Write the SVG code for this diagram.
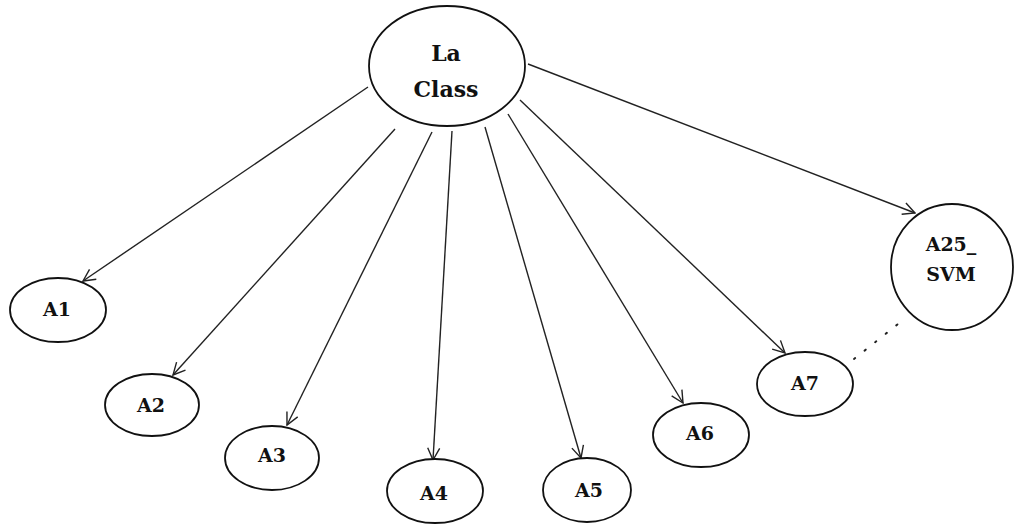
<svg xmlns="http://www.w3.org/2000/svg" width="1014" height="526" viewBox="0 0 1014 526">
<style>
.n ellipse{fill:#fff;stroke:#111;stroke-width:1.8}
.n text{font-family:"DejaVu Serif","Liberation Serif",serif;font-weight:bold;font-size:19px;fill:#111;text-anchor:middle}
.c line{stroke:#222;stroke-width:1.4;marker-end:url(#ah)}
</style>
<defs>
<marker id="ah" viewBox="0 0 14 14" refX="13" refY="7" markerWidth="14" markerHeight="14" markerUnits="userSpaceOnUse" orient="auto">
<polyline points="1,1 13,7 1,13" fill="none" stroke="#222" stroke-width="1.4"/>
</marker>
</defs>
<rect width="1014" height="526" fill="#fff"/>
<g class="c" id="connectors">
<line x1="368" y1="87" x2="83" y2="281"/>
<line x1="395" y1="129" x2="173" y2="375"/>
<line x1="432" y1="132" x2="287" y2="425"/>
<line x1="452" y1="131" x2="433" y2="460"/>
<line x1="485" y1="127" x2="581" y2="458"/>
<line x1="508" y1="114" x2="683" y2="403"/>
<line x1="520" y1="100" x2="785" y2="353"/>
<line x1="528" y1="64" x2="915" y2="213"/>
<line x1="854" y1="359" x2="903" y2="320" style="marker-end:none;stroke-dasharray:1.5 12;stroke-width:2;stroke-linecap:round"/>
</g>
<g class="n" id="laclass"><ellipse cx="447" cy="66" rx="78" ry="60"/>
<text x="446" y="61" style="font-size:22px">La</text><text x="446" y="97" style="font-size:22px">Class</text></g>
<g class="n" id="a1"><ellipse cx="58" cy="310" rx="48" ry="32"/><text x="57" y="316">A1</text></g>
<g class="n" id="a2"><ellipse cx="152" cy="405" rx="47" ry="31"/><text x="151" y="412">A2</text></g>
<g class="n" id="a3"><ellipse cx="272" cy="458" rx="47" ry="32"/><text x="272" y="462">A3</text></g>
<g class="n" id="a4"><ellipse cx="435" cy="491" rx="48" ry="32"/><text x="434" y="500">A4</text></g>
<g class="n" id="a5"><ellipse cx="587" cy="490" rx="44" ry="32"/><text x="589" y="497">A5</text></g>
<g class="n" id="a6"><ellipse cx="701" cy="435" rx="48" ry="32"/><text x="700" y="440">A6</text></g>
<g class="n" id="a7"><ellipse cx="805" cy="384" rx="48" ry="32"/><text x="805" y="390">A7</text></g>
<g class="n" id="a25svm"><ellipse cx="952" cy="267" rx="61" ry="63"/><text x="951" y="251">A25_</text><text x="951" y="281">SVM</text></g>
</svg>
